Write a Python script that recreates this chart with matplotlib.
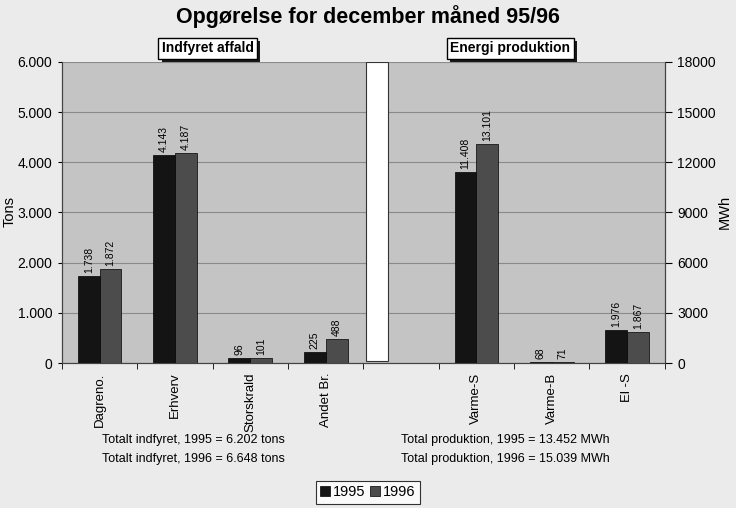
import matplotlib
matplotlib.use("Agg")
from matplotlib import pyplot as plt
from matplotlib import font_manager
from matplotlib import patheffects as pe
from matplotlib.patches import Rectangle
import numpy as np

plt.rcParams["font.family"] = ["Liberation Sans", "DejaVu Sans"]

# data
cats_left = ["Dagreno.", "Erhverv", "Storskrald", "Andet Br."]
tons_1995 = [1738, 4143, 96, 225]
tons_1996 = [1872, 4187, 101, 488]

cats_right = ["Varme-S", "Varme-B", "El -S"]
mwh_1995 = [11408, 68, 1976]
mwh_1996 = [13101, 71, 1867]

left_ticks = [0, 1000, 2000, 3000, 4000, 5000, 6000]
right_ticks = [0, 3000, 6000, 9000, 12000, 15000, 18000]

notes_left = ["Totalt indfyret, 1995 = 6.202 tons", "Totalt indfyret, 1996 = 6.648 tons"]
notes_right = ["Total produktion, 1995 = 13.452 MWh", "Total produktion, 1996 = 15.039 MWh"]

c95 = "#141414"
c96 = "#4c4c4c"

# narrow font for the notes if there is one
names = {f.name for f in font_manager.fontManager.ttflist}
narrow = "Liberation Sans Narrow" if "Liberation Sans Narrow" in names else "Liberation Sans"

def dk(v):
    return f"{v:,.0f}".replace(",", ".")

fig = plt.figure(figsize=(7.36, 5.08), dpi=100)
fig.patch.set_facecolor("#ebebeb")
ax = fig.add_axes([0.0842, 0.2854, 0.819, 0.5926])
ax.set_facecolor("#c4c4c4")
ax2 = ax.twinx()

xl = np.arange(len(cats_left))
xr = np.arange(len(cats_right)) + 5
w = 0.29

b1 = ax.bar(xl - w / 2, tons_1995, w, color=c95, edgecolor="#000000", lw=0.5, zorder=3)
b2 = ax.bar(xl + w / 2, tons_1996, w, color=c96, edgecolor="#000000", lw=0.5, zorder=3)
r1 = ax2.bar(xr - w / 2, mwh_1995, w, color=c95, edgecolor="#000000", lw=0.5, zorder=3)
r2 = ax2.bar(xr + w / 2, mwh_1996, w, color=c96, edgecolor="#000000", lw=0.5, zorder=3)

for bars, vals, a, off in [(b1, tons_1995, ax, 60), (b2, tons_1996, ax, 60),
                           (r1, mwh_1995, ax2, 180), (r2, mwh_1996, ax2, 180)]:
    for b, v in zip(bars, vals):
        a.text(b.get_x() + b.get_width() / 2, v + off, dk(v), rotation=90,
               ha="center", va="bottom", fontsize=7.5)

# white separator between the two groups
ax.add_patch(Rectangle((3.5 + 0.03, 50), 0.3, 5950, facecolor="white",
                       edgecolor="#333333", lw=0.8, zorder=4))

ax.set_xlim(-0.5, 7.5)
ax.set_ylim(0, 6000)
ax2.set_ylim(0, 18000)
ax.set_yticks(left_ticks)
ax.set_yticklabels([dk(t) for t in left_ticks], fontsize=10)
ax2.set_yticks(right_ticks)
ax2.set_yticklabels([str(t) for t in right_ticks], fontsize=10)
ax.yaxis.grid(True, color="#8a8a8a", lw=0.8, zorder=0)
ax.set_axisbelow(True)

ax.set_xticks(list(xl) + list(xr))
ax.set_xticklabels(cats_left + cats_right, rotation=90, fontsize=9.5)
ax.tick_params(axis="x", length=0, pad=7)
ax.set_xticks(np.arange(-0.5, 8.0, 1.0), minor=True)
ax.tick_params(axis="x", which="minor", length=4, direction="out")
ax.tick_params(axis="y", length=3, pad=4)
ax2.tick_params(axis="y", length=5, direction="out", pad=4)

for a in (ax, ax2):
    for s in a.spines.values():
        s.set_color("#444444")
        s.set_linewidth(0.8)
ax.spines["top"].set_visible(False)
ax2.spines["top"].set_visible(False)

fig.text(0.013, 0.583, "Tons", rotation=90, ha="center", va="center", fontsize=10.5)
fig.text(0.985, 0.583, "MWh", rotation=90, ha="center", va="center", fontsize=10.5)

fig.text(0.5, 0.968, "Opgørelse for december måned 95/96", ha="center", va="center",
         fontsize=15.5, fontweight="bold")

box = dict(boxstyle="square,pad=0.25", facecolor="white", edgecolor="black", lw=1.0)
for xc, lab in [(0.282, "Indfyret affald"), (0.693, "Energi produktion")]:
    t = fig.text(xc, 0.905, lab, ha="center", va="center", fontsize=10,
                 fontweight="bold", bbox=box)
    t.get_bbox_patch().set_path_effects([
        pe.SimplePatchShadow(offset=(2.5, -2.5), shadow_rgbFace="#1a1a1a", alpha=1.0),
        pe.Normal()])

for i, (sl, sr) in enumerate(zip(notes_left, notes_right)):
    y = 0.134 - i * 0.038
    fig.text(0.263, y, sl, ha="center", va="center", fontsize=9, family=narrow)
    fig.text(0.686, y, sr, ha="center", va="center", fontsize=9, family=narrow)

leg = fig.legend([b1, b2], ["1995", "1996"], loc="center", bbox_to_anchor=(0.5, 0.031),
                 ncol=2, fontsize=10.5, frameon=True, fancybox=False, handlelength=0.7,
                 handleheight=0.7, handletextpad=0.2, columnspacing=0.3,
                 borderpad=0.3, edgecolor="black")
leg.get_frame().set_linewidth(0.8)
leg.get_frame().set_facecolor("white")

fig.savefig("out.png", dpi=100, facecolor=fig.get_facecolor())
